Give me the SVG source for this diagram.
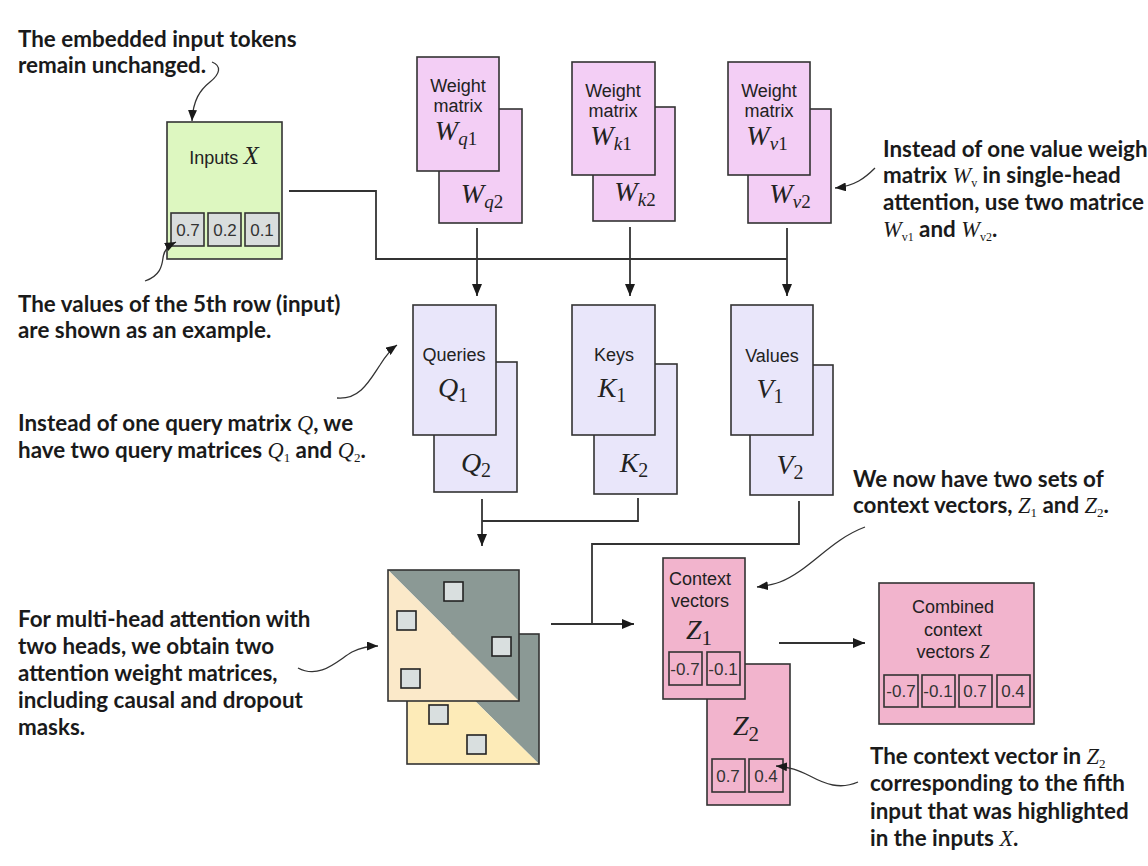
<svg xmlns="http://www.w3.org/2000/svg" width="1148" height="866" viewBox="0 0 1148 866">
  <defs>
    <marker id="arr" viewBox="0 0 12 10" refX="12" refY="5" markerWidth="12" markerHeight="10" markerUnits="userSpaceOnUse" orient="auto">
      <path d="M0,0 L12,5 L0,10 z" fill="#1a1a1a"/>
    </marker>
    <marker id="arrs" viewBox="0 0 11 9" refX="11" refY="4.5" markerWidth="11" markerHeight="9" markerUnits="userSpaceOnUse" orient="auto">
      <path d="M0,0 L11,4.5 L0,9 z" fill="#1a1a1a"/>
    </marker>
  </defs>
  <style>
    .note { font-family: Lato, "Open Sans", sans-serif; font-weight: 700; font-size: 22.4px; fill: #1a1a1a; }
    .m { font-family: "Liberation Serif", "DejaVu Serif", serif; font-style: italic; font-weight: 400; }
    .up { font-family: "Liberation Serif", "DejaVu Serif", serif; font-style: normal; font-weight: 400; }
    .lbl { font-family: "Liberation Sans", Arial, sans-serif; font-size: 18px; fill: #222; text-anchor: middle; }
    .big { font-family: "Liberation Serif", "DejaVu Serif", serif; font-style: italic; font-size: 28px; fill: #222; text-anchor: middle; }
    .num { font-family: "Liberation Sans", Arial, sans-serif; font-size: 17px; fill: #333; text-anchor: middle; }
    .box { stroke: #333; stroke-width: 1.6; }
    .wm { fill: #f3cef5; }
    .qkv { fill: #e9e6fa; }
    .ctx { fill: #f2b4cd; }
    .cell { fill: #d9dddd; stroke: #333; stroke-width: 1.6; }
    .pcell { fill: none; stroke: #333; stroke-width: 1.6; }
    .dot { fill: #d9dfdf; stroke: #222; stroke-width: 1.6; }
    .wire { fill: none; stroke: #333; stroke-width: 1.8; }
    .call { fill: none; stroke: #333; stroke-width: 1.3; }
  </style>

  <!-- explanatory notes -->
  <g id="notes" class="note">
    <text x="18" y="47">The embedded input tokens</text>
    <text x="18" y="73">remain unchanged.</text>
    <text x="18" y="312">The values of the 5th row (input)</text>
    <text x="18" y="338">are shown as an example.</text>
    <text x="18" y="431">Instead of one query matrix <tspan class="m">Q</tspan>, we</text>
    <text x="18" y="458">have two query matrices <tspan class="m">Q</tspan><tspan class="up" font-size="13" dy="4">1</tspan><tspan dy="-4"> and </tspan><tspan class="m">Q</tspan><tspan class="up" font-size="13" dy="4">2</tspan><tspan dy="-4">.</tspan></text>
    <text x="18" y="627">For multi-head attention with</text>
    <text x="18" y="654">two heads, we obtain two</text>
    <text x="18" y="681">attention weight matrices,</text>
    <text x="18" y="708">including causal and dropout</text>
    <text x="18" y="735">masks.</text>
    <text x="883" y="157">Instead of one value weigh</text>
    <text x="883" y="183">matrix <tspan class="m">W</tspan><tspan class="up" font-size="12" dy="4">v</tspan><tspan dy="-4"> in single-head</tspan></text>
    <text x="883" y="210">attention, use two matrice</text>
    <text x="883" y="237"><tspan class="m">W</tspan><tspan class="up" font-size="12" dy="4">v1</tspan><tspan dy="-4"> and </tspan><tspan class="m">W</tspan><tspan class="up" font-size="12" dy="4">v2</tspan><tspan dy="-4">.</tspan></text>
    <text x="853" y="487">We now have two sets of</text>
    <text x="853" y="513">context vectors, <tspan class="m">Z</tspan><tspan class="up" font-size="13" dy="4">1</tspan><tspan dy="-4"> and </tspan><tspan class="m">Z</tspan><tspan class="up" font-size="13" dy="4">2</tspan><tspan dy="-4">.</tspan></text>
    <text x="870" y="764">The context vector in <tspan class="m">Z</tspan><tspan class="up" font-size="13" dy="4">2</tspan></text>
    <text x="870" y="791">corresponding to the fifth</text>
    <text x="870" y="819">input that was highlighted</text>
    <text x="870" y="846">in the inputs <tspan class="m">X</tspan>.</text>
  </g>

  <!-- inputs -->
  <g id="inputs">
    <rect x="167" y="122" width="115" height="137" fill="#ddf7c0" class="box"/>
    <text x="224" y="164" class="lbl" font-size="21.5">Inputs <tspan class="m" font-size="25">X</tspan></text>
    <rect x="171" y="213" width="33" height="33" class="cell"/>
    <rect x="208" y="213" width="33" height="33" class="cell"/>
    <rect x="245" y="213" width="34" height="33" class="cell"/>
    <text x="188" y="236" class="num">0.7</text>
    <text x="225" y="236" class="num">0.2</text>
    <text x="262" y="236" class="num">0.1</text>
  </g>

  <!-- weight matrices -->
  <g id="wq">
    <rect x="439" y="109" width="83" height="114" class="box wm"/>
    <rect x="417" y="57" width="82" height="114" class="box wm"/>
    <text x="458" y="92" class="lbl">Weight</text>
    <text x="458" y="112" class="lbl">matrix</text>
    <text x="456" y="140" class="big" font-size="27">W<tspan font-size="19" dy="5">q</tspan><tspan class="up" font-size="19">1</tspan></text>
    <text x="482" y="203" class="big" font-size="27">W<tspan font-size="19" dy="5">q</tspan><tspan class="up" font-size="19">2</tspan></text>
  </g>
  <g id="wk">
    <rect x="593" y="107" width="82" height="114" class="box wm"/>
    <rect x="572" y="62" width="83" height="113" class="box wm"/>
    <text x="613" y="97" class="lbl">Weight</text>
    <text x="613" y="117" class="lbl">matrix</text>
    <text x="611" y="145" class="big" font-size="27">W<tspan font-size="19" dy="5">k</tspan><tspan class="up" font-size="19">1</tspan></text>
    <text x="635" y="201" class="big" font-size="27">W<tspan font-size="19" dy="5">k</tspan><tspan class="up" font-size="19">2</tspan></text>
  </g>
  <g id="wv">
    <rect x="748" y="109" width="83" height="114" class="box wm"/>
    <rect x="728" y="62" width="82" height="113" class="box wm"/>
    <text x="769" y="97" class="lbl">Weight</text>
    <text x="769" y="117" class="lbl">matrix</text>
    <text x="767" y="145" class="big" font-size="27">W<tspan font-size="19" dy="5">v</tspan><tspan class="up" font-size="19">1</tspan></text>
    <text x="790" y="203" class="big" font-size="27">W<tspan font-size="19" dy="5">v</tspan><tspan class="up" font-size="19">2</tspan></text>
  </g>

  <!-- queries, keys, values -->
  <g id="queries">
    <rect x="434" y="362" width="83" height="130" class="box qkv"/>
    <rect x="413" y="305" width="83" height="130" class="box qkv"/>
    <text x="454" y="361" class="lbl">Queries</text>
    <text x="453" y="397" class="big">Q<tspan class="up" font-size="20" dy="5">1</tspan></text>
    <text x="476" y="472" class="big">Q<tspan class="up" font-size="20" dy="5">2</tspan></text>
  </g>
  <g id="keys">
    <rect x="594" y="364" width="83" height="130" class="box qkv"/>
    <rect x="572" y="305" width="83" height="130" class="box qkv"/>
    <text x="614" y="361" class="lbl">Keys</text>
    <text x="612" y="397" class="big">K<tspan class="up" font-size="20" dy="5">1</tspan></text>
    <text x="634" y="472" class="big">K<tspan class="up" font-size="20" dy="5">2</tspan></text>
  </g>
  <g id="values">
    <rect x="750" y="365" width="83" height="130" class="box qkv"/>
    <rect x="731" y="305" width="82" height="130" class="box qkv"/>
    <text x="772" y="362" class="lbl">Values</text>
    <text x="770" y="398" class="big">V<tspan class="up" font-size="20" dy="5">1</tspan></text>
    <text x="790" y="474" class="big">V<tspan class="up" font-size="20" dy="5">2</tspan></text>
  </g>

  <!-- attention weight matrices -->
  <g id="attention">
    <polygon points="407,634 539,634 539,764" fill="#8b9995"/>
    <polygon points="407,634 407,764 539,764" fill="#fdebb8"/>
    <rect x="407" y="634" width="132" height="130" fill="none" class="box"/>
    <rect x="429" y="705" width="19" height="19" class="dot"/>
    <rect x="467" y="735" width="19" height="19" class="dot"/>
    <polygon points="388,570 519,570 519,701" fill="#8b9995"/>
    <polygon points="388,570 388,701 519,701" fill="#fbe9c9"/>
    <rect x="388" y="570" width="131" height="131" fill="none" class="box"/>
    <rect x="444" y="582" width="19" height="19" class="dot"/>
    <rect x="397" y="611" width="19" height="19" class="dot"/>
    <rect x="492" y="637" width="19" height="19" class="dot"/>
    <rect x="401" y="669" width="19" height="19" class="dot"/>
  </g>

  <!-- context vectors: Z2 sits behind Z1 -->
  <g id="context">
    <rect x="707" y="664" width="83" height="141" class="box ctx"/>
    <text x="746" y="735" class="big" font-size="29">Z<tspan class="up" font-size="21" dy="6">2</tspan></text>
    <rect x="712" y="759" width="33" height="33" class="pcell"/>
    <rect x="749" y="759" width="34" height="33" class="pcell"/>
    <text x="728" y="782" class="num">0.7</text>
    <text x="766" y="782" class="num">0.4</text>
    <rect x="663" y="558" width="82" height="141" class="box ctx"/>
    <text x="700" y="585" class="lbl">Context</text>
    <text x="700" y="607" class="lbl">vectors</text>
    <text x="699" y="639" class="big" font-size="29">Z<tspan class="up" font-size="21" dy="6">1</tspan></text>
    <rect x="669" y="652" width="33" height="33" class="pcell"/>
    <rect x="707" y="652" width="33" height="33" class="pcell"/>
    <text x="685" y="675" class="num">-0.7</text>
    <text x="723" y="675" class="num">-0.1</text>
  </g>

  <!-- combined context vectors -->
  <g id="combined">
    <rect x="879" y="583" width="155" height="141" class="box ctx"/>
    <text x="953" y="613" class="lbl">Combined</text>
    <text x="953" y="636" class="lbl">context</text>
    <text x="953" y="658" class="lbl">vectors <tspan class="m">Z</tspan></text>
    <rect x="884" y="675" width="34" height="32" class="pcell"/>
    <rect x="922" y="675" width="33" height="32" class="pcell"/>
    <rect x="959" y="675" width="33" height="32" class="pcell"/>
    <rect x="997" y="675" width="33" height="32" class="pcell"/>
    <text x="901" y="697" class="num">-0.7</text>
    <text x="938" y="697" class="num">-0.1</text>
    <text x="975" y="697" class="num">0.7</text>
    <text x="1013" y="697" class="num">0.4</text>
  </g>

  <!-- data flow connectors -->
  <g id="connectors">
    <path class="wire" d="M289,191 H376 V259 H787"/>
    <path class="wire" d="M477,228 V296" marker-end="url(#arr)"/>
    <path class="wire" d="M630,227 V296" marker-end="url(#arr)"/>
    <path class="wire" d="M787,228 V296" marker-end="url(#arr)"/>
    <path class="wire" d="M482,499 V546" marker-end="url(#arr)"/>
    <path class="wire" d="M638,498 V521 H482"/>
    <path class="wire" d="M799,501 V544 H592 V624"/>
    <path class="wire" d="M551,624 H634" marker-end="url(#arr)"/>
    <path class="wire" d="M779,643 H865" marker-end="url(#arr)"/>
  </g>

  <!-- callout pointers -->
  <g id="callouts">
    <path class="call" d="M212,62 C222,66 220,74 210,82 C200,90 193,100 192,121" marker-end="url(#arrs)"/>
    <path class="call" d="M145,281 C160,276 162,266 163,258 C164,250 168,246 176,242" marker-end="url(#arrs)"/>
    <path class="call" d="M337,398 C360,400 370,380 380,365 C385,357 390,350 397,345" marker-end="url(#arrs)"/>
    <path class="call" d="M298,668 C320,680 338,660 352,652 C362,647 370,646 378,646" marker-end="url(#arrs)"/>
    <path class="call" d="M875,168 C865,178 855,186 835,188" marker-end="url(#arrs)"/>
    <path class="call" d="M865,527 C830,540 810,570 780,582 C772,585 765,586 757,587" marker-end="url(#arrs)"/>
    <path class="call" d="M858,782 C840,790 825,784 810,776 C798,770 790,767 776,766" marker-end="url(#arrs)"/>
  </g>
</svg>
